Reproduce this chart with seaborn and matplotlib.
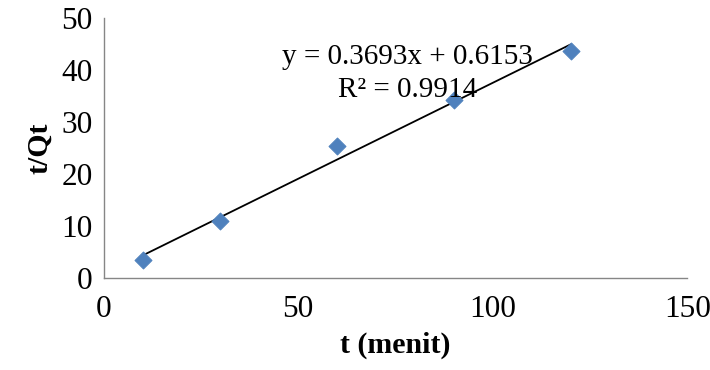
import numpy as np
import pandas as pd
import matplotlib
matplotlib.use('Agg')
import matplotlib.pyplot as plt
import seaborn as sns

# data
t_menit = [10, 30, 60, 90, 120]
t_qt = [3.4, 10.9, 25.3, 34.2, 43.6]
slope = 0.3693
intercept = 0.6153
x_ticks = [0, 50, 100, 150]
y_ticks = [0, 10, 20, 30, 40, 50]

df = pd.DataFrame({'t': t_menit, 'tq': t_qt})

sns.set_style('white')
plt.rcParams['font.family'] = ['Liberation Serif', 'DejaVu Serif']
plt.rcParams['text.color'] = 'black'
plt.rcParams['axes.labelcolor'] = 'black'

fig = plt.figure(figsize=(7.1, 3.7), dpi=100)
ax = fig.add_axes([0.146, 0.249, 0.822, 0.702])

# garis trend
x_line = np.array([min(t_menit), max(t_menit)])
ax.plot(x_line, slope * x_line + intercept, color='black', lw=1.3, zorder=2)

sns.scatterplot(data=df, x='t', y='tq', ax=ax, marker='D', s=75,
                color='#4F81BD', edgecolor='#4F81BD', zorder=3)

ax.set_xlim(0, 150)
ax.set_ylim(0, 50)
ax.set_xticks(x_ticks)
ax.set_yticks(y_ticks)
ax.tick_params(axis='both', labelsize=22.5, colors='#868686', length=5, width=1,
               direction='out', labelcolor='black')
ax.tick_params(axis='x', pad=7)
ax.tick_params(axis='y', pad=3)

for s in ['top', 'right']:
    ax.spines[s].set_visible(False)
for s in ['left', 'bottom']:
    ax.spines[s].set_color('#868686')
    ax.spines[s].set_linewidth(1)

ax.set_xlabel('t (menit)', fontsize=21.5, fontweight='bold', labelpad=6)
ax.set_ylabel('t/Qt', fontsize=21.5, fontweight='bold', labelpad=6)

ax.text(78.2, 42.5, 'y = 0.3693x + 0.6153', fontsize=21, ha='center', va='center')
ax.text(78.2, 36.2, 'R² = 0.9914', fontsize=21, ha='center', va='center')

fig.savefig('out.png', dpi=100)
